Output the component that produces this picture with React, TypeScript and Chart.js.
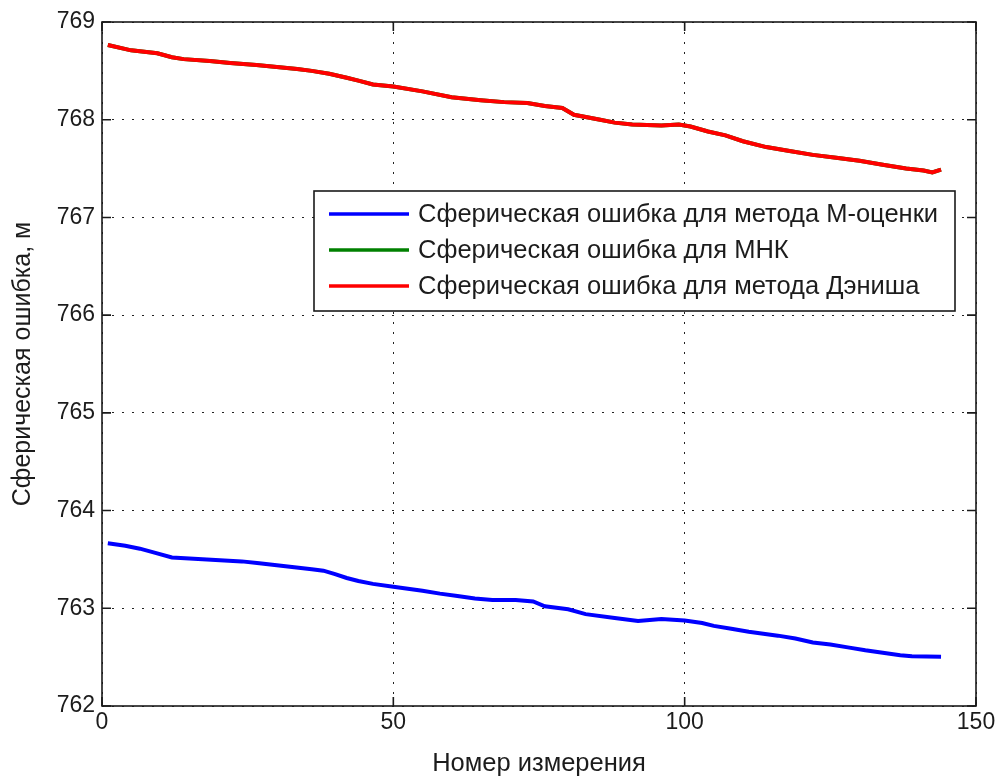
import React, { useEffect, useRef } from "react";
import { Chart, registerables } from "chart.js";

Chart.register(...registerables);

// ---- data ----
const seriesLabels = [
  "Сферическая ошибка для метода М-оценки",
  "Сферическая ошибка для МНК",
  "Сферическая ошибка для метода Дэниша",
];
const seriesColors = ["#0000ff", "#008000", "#ff0000"];

const xTitle = "Номер измерения";
const yTitle = "Сферическая ошибка, м";

const xTicks = [0, 50, 100, 150];
const yTicks = [762, 763, 764, 765, 766, 767, 768, 769];

const mEstX = [1, 4, 6.5, 9, 12, 15, 18, 21, 24, 27, 30, 33, 36, 38, 40, 42, 44, 46.5, 50, 55, 58, 61, 64, 67, 71, 74, 76, 80, 83, 88, 92, 96, 100, 103, 105, 108, 111, 116, 119, 122, 125, 128, 131, 134, 137, 139, 144];
const mEstY = [763.665, 763.64, 763.61, 763.57, 763.52, 763.51, 763.5, 763.49, 763.48, 763.46, 763.44, 763.42, 763.4, 763.385, 763.35, 763.31, 763.28, 763.25, 763.22, 763.18, 763.15, 763.125, 763.1, 763.085, 763.085, 763.07, 763.02, 762.99, 762.94, 762.9, 762.87, 762.89, 762.875, 762.85, 762.82, 762.79, 762.76, 762.72, 762.69, 762.65, 762.63, 762.6, 762.57, 762.545, 762.52, 762.51, 762.505];

const dennisX = [1, 5, 9.5, 12, 14, 18.5, 22, 26.5, 30, 33.5, 36, 39, 42, 44, 46.5, 50, 55, 60, 65, 69, 73, 76, 79, 81, 85.5, 88, 91, 96, 99, 101, 104, 107, 110, 114, 118, 122, 126, 130, 134, 138, 141, 142.5, 144];
const dennisY = [768.765, 768.71, 768.68, 768.64, 768.62, 768.6, 768.58, 768.56, 768.54, 768.52, 768.5, 768.47, 768.43, 768.4, 768.36, 768.34, 768.29, 768.23, 768.2, 768.18, 768.17, 768.14, 768.12, 768.05, 768.0, 767.97, 767.95, 767.94, 767.95, 767.93, 767.88, 767.84, 767.78, 767.72, 767.68, 767.64, 767.61, 767.58, 767.54, 767.5, 767.48, 767.46, 767.49];

// МНК curve lies underneath the Dennis curve (not visible in the reference)
const mnkX = dennisX;
const mnkY = dennisY;

const FONT = "'Liberation Sans', Arial, sans-serif";
const TEXT_COLOR = "#1c1c1c";

const toPoints = (xs: number[], ys: number[]) => xs.map((x, i) => ({ x, y: ys[i] }));

const framePlugin = {
  id: "matlabFrame",
  afterDatasetsDraw(chart: any) {
    const { ctx, chartArea, scales } = chart;
    const { left, right, top, bottom } = chartArea;
    const xs = scales.x;
    const ys = scales.y;
    ctx.save();
    ctx.strokeStyle = "#1a1a1a";
    ctx.lineWidth = 1.6;
    ctx.strokeRect(left, top, right - left, bottom - top);
    const tl = 9;
    ctx.beginPath();
    for (const v of xTicks) {
      const px = xs.getPixelForValue(v);
      ctx.moveTo(px, bottom);
      ctx.lineTo(px, bottom - tl);
      ctx.moveTo(px, top);
      ctx.lineTo(px, top + tl);
    }
    for (const v of yTicks) {
      const py = ys.getPixelForValue(v);
      ctx.moveTo(left, py);
      ctx.lineTo(left + tl, py);
      ctx.moveTo(right, py);
      ctx.lineTo(right - tl, py);
    }
    ctx.stroke();

    // legend box
    const bx = left + 212;
    const by = top + 169;
    const bw = 641;
    const bh = 120;
    ctx.fillStyle = "#ffffff";
    ctx.fillRect(bx, by, bw, bh);
    ctx.strokeStyle = "#1a1a1a";
    ctx.lineWidth = 1.6;
    ctx.strokeRect(bx, by, bw, bh);
    ctx.font = `25.5px ${FONT}`;
    ctx.textBaseline = "middle";
    ctx.textAlign = "left";
    chart.data.datasets.forEach((ds: any, i: number) => {
      const ry = by + 23 + i * 36;
      ctx.strokeStyle = ds.borderColor;
      ctx.lineWidth = 3.5;
      ctx.beginPath();
      ctx.moveTo(bx + 15, ry);
      ctx.lineTo(bx + 95, ry);
      ctx.stroke();
      ctx.fillStyle = TEXT_COLOR;
      ctx.fillText(ds.label, bx + 104, ry + 1);
    });
    ctx.restore();
  },
};

export default function App() {
  const canvasRef = useRef<HTMLCanvasElement | null>(null);

  useEffect(() => {
    const canvas = canvasRef.current;
    if (!canvas) return;
    const chart = new Chart(canvas, {
      type: "line",
      data: {
        datasets: [
          { label: seriesLabels[0], data: toPoints(mEstX, mEstY), borderColor: seriesColors[0], order: 2 },
          { label: seriesLabels[1], data: toPoints(mnkX, mnkY), borderColor: seriesColors[1], order: 1 },
          { label: seriesLabels[2], data: toPoints(dennisX, dennisY), borderColor: seriesColors[2], order: 0 },
        ].map((d) => ({
          ...d,
          borderWidth: 4,
          pointRadius: 0,
          tension: 0,
          fill: false,
          backgroundColor: d.borderColor,
        })),
      },
      options: {
        animation: false,
        responsive: false,
        maintainAspectRatio: false,
        layout: { padding: { left: 0, top: 22, right: 27, bottom: 0 } },
        plugins: { legend: { display: false }, tooltip: { enabled: false } },
        scales: {
          x: {
            type: "linear",
            min: 0,
            max: 150,
            afterBuildTicks: (s: any) => {
              s.ticks = xTicks.map((v) => ({ value: v }));
            },
            afterFit: (s: any) => {
              s.height = 75;
            },
            ticks: { font: { family: FONT, size: 23 }, color: TEXT_COLOR, padding: 3, maxRotation: 0 },
            grid: { color: "#222", lineWidth: 1, drawTicks: false },
            border: { display: false, dash: [2, 8] },
            title: {
              display: true,
              text: xTitle,
              font: { family: FONT, size: 25.5 },
              color: TEXT_COLOR,
              padding: { top: 0, bottom: 2 },
            },
          },
          y: {
            type: "linear",
            min: 762,
            max: 769,
            afterBuildTicks: (s: any) => {
              s.ticks = yTicks.map((v) => ({ value: v }));
            },
            afterFit: (s: any) => {
              s.width = 102;
            },
            ticks: { font: { family: FONT, size: 23 }, color: TEXT_COLOR, padding: 7 },
            grid: { color: "#222", lineWidth: 1, drawTicks: false },
            border: { display: false, dash: [2, 8] },
            title: {
              display: true,
              text: yTitle,
              font: { family: FONT, size: 25 },
              color: TEXT_COLOR,
              padding: { top: 8, bottom: 0 },
            },
          },
        },
      },
      plugins: [framePlugin],
    } as any);
    return () => chart.destroy();
  }, []);

  return (
    <div style={{ position: "fixed", left: 0, top: 0, width: 1003, height: 781, background: "#fff" }}>
      <canvas ref={canvasRef} width={1003} height={781} />
    </div>
  );
}
